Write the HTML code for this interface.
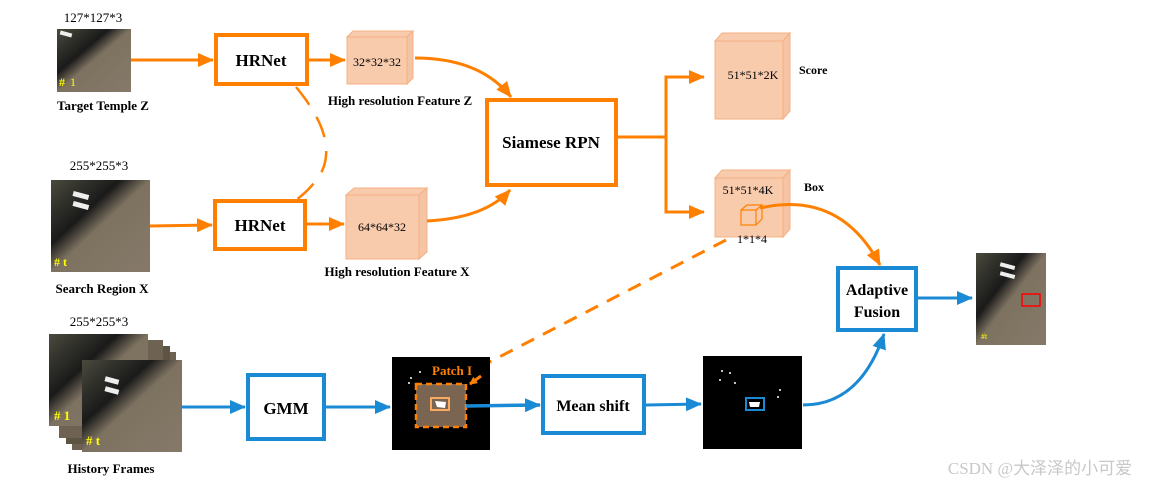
<!DOCTYPE html>
<html><head><meta charset="utf-8"><style>
html,body{margin:0;padding:0;background:#fff}
svg{display:block}
text{font-family:"Liberation Serif",serif}
.b{font-weight:bold}
</style></head><body>
<svg width="1166" height="487" viewBox="0 0 1166 487" xmlns="http://www.w3.org/2000/svg">
<defs>
<marker id="ao" markerWidth="8" markerHeight="8" refX="7" refY="4" orient="auto" markerUnits="userSpaceOnUse"><path d="M0,0 L8,4 L0,8 z" fill="#ff8000"/></marker>
<marker id="aO" markerWidth="16" markerHeight="14" refX="15" refY="7" orient="auto" markerUnits="userSpaceOnUse"><path d="M0,0 L16,7 L0,14 z" fill="#ff8000"/></marker>
<marker id="aB" markerWidth="16" markerHeight="14" refX="15" refY="7" orient="auto" markerUnits="userSpaceOnUse"><path d="M0,0 L16,7 L0,14 z" fill="#1a8ad4"/></marker>
<linearGradient id="road" x1="0" y1="0" x2="1" y2="1">
<stop offset="0" stop-color="#4a4a3e"/><stop offset="0.35" stop-color="#1a1a1a"/><stop offset="0.5" stop-color="#7d7260"/><stop offset="1" stop-color="#86796a"/></linearGradient>
</defs>

<!-- Target image -->
<text x="93" y="22" font-size="13" text-anchor="middle">127*127*3</text>
<rect x="57" y="29" width="74" height="63" fill="url(#road)"/>
<rect x="60" y="32" width="12" height="4" fill="#eee" transform="rotate(15 66 34)"/>
<text x="59" y="86" font-size="12" fill="#ffff00" class="b">#</text><text x="70" y="86" font-size="12" fill="#ffff00">1</text>
<text x="103" y="110" font-size="13" class="b" text-anchor="middle">Target Temple Z</text>

<!-- Search image -->
<text x="99" y="170" font-size="13" text-anchor="middle">255*255*3</text>
<rect x="51" y="180" width="99" height="92" fill="url(#road)"/>
<rect x="73" y="193" width="16" height="5" fill="#eee" transform="rotate(15 81 195)"/>
<rect x="73" y="203" width="16" height="5" fill="#eee" transform="rotate(15 81 205)"/>
<text x="54" y="266" font-size="12" fill="#ffff00" class="b"># t</text>
<text x="102" y="293" font-size="13" class="b" text-anchor="middle">Search Region X</text>

<!-- HRNet boxes -->
<rect x="216" y="35" width="91" height="49" fill="#fff" stroke="#ff8000" stroke-width="4"/>
<text x="261" y="66" font-size="17" class="b" text-anchor="middle">HRNet</text>
<rect x="215" y="201" width="90" height="48" fill="#fff" stroke="#ff8000" stroke-width="4"/>
<text x="260" y="231" font-size="17" class="b" text-anchor="middle">HRNet</text>

<line x1="131" y1="60" x2="213" y2="60" stroke="#ff8000" stroke-width="3" marker-end="url(#aO)"/>
<line x1="150" y1="226" x2="212" y2="225" stroke="#ff8000" stroke-width="3" marker-end="url(#aO)"/>
<line x1="308" y1="60" x2="345" y2="60" stroke="#ff8000" stroke-width="3" marker-end="url(#aO)"/>
<line x1="306" y1="224" x2="344" y2="224" stroke="#ff8000" stroke-width="3" marker-end="url(#aO)"/>

<!-- dashed shared -->
<path d="M296,87 Q340,140 320,175 Q310,190 296,200" fill="none" stroke="#ff8000" stroke-width="2.5" stroke-dasharray="22,14"/>

<!-- Cube Z -->
<g fill="#f8cbad" stroke="#f4b183" stroke-width="1">
<path d="M347,37 L353,31 L413,31 L407,37 z"/><path d="M407,37 L413,31 L413,78 L407,84 z" fill="#f4c4a4"/>
<rect x="347" y="37" width="60" height="47"/>
</g>
<text x="377" y="66" font-size="12" text-anchor="middle">32*32*32</text>
<text x="400" y="105" font-size="13" class="b" text-anchor="middle">High resolution Feature Z</text>

<!-- Cube X -->
<g fill="#f8cbad" stroke="#f4b183" stroke-width="1">
<path d="M346,195 L354,188 L427,188 L419,195 z"/><path d="M419,195 L427,188 L427,252 L419,259 z" fill="#f4c4a4"/>
<rect x="346" y="195" width="73" height="64"/>
</g>
<text x="382" y="231" font-size="12" text-anchor="middle">64*64*32</text>
<text x="397" y="276" font-size="13" class="b" text-anchor="middle">High resolution Feature X</text>

<!-- curves to Siamese -->
<path d="M415,58 Q480,58 511,97" fill="none" stroke="#ff8000" stroke-width="3" marker-end="url(#aO)"/>
<path d="M427,221 Q485,218 510,190" fill="none" stroke="#ff8000" stroke-width="3" marker-end="url(#aO)"/>

<!-- Siamese RPN -->
<rect x="487" y="100" width="129" height="85" fill="#fff" stroke="#ff8000" stroke-width="4"/>
<text x="551" y="148" font-size="17" class="b" text-anchor="middle">Siamese RPN</text>

<path d="M618,137 L666,137" stroke="#ff8000" stroke-width="3"/>
<path d="M666,197 L666,77 L704,77" fill="none" stroke="#ff8000" stroke-width="3" marker-end="url(#aO)"/>
<path d="M666,137 L666,212 L704,212" fill="none" stroke="#ff8000" stroke-width="3" marker-end="url(#aO)"/>

<!-- Score cube -->
<g fill="#f8cbad" stroke="#f4b183" stroke-width="1">
<path d="M715,41 L722,33 L790,33 L783,41 z"/><path d="M783,41 L790,33 L790,111 L783,119 z" fill="#f4c4a4"/>
<rect x="715" y="41" width="68" height="78"/>
</g>
<text x="753" y="79" font-size="12" text-anchor="middle">51*51*2K</text>
<text x="799" y="74" font-size="12" class="b">Score</text>

<!-- Box cube -->
<g fill="#f8cbad" stroke="#f4b183" stroke-width="1">
<path d="M715,178 L722,170 L790,170 L783,178 z"/><path d="M783,178 L790,170 L790,229 L783,237 z" fill="#f4c4a4"/>
<rect x="715" y="178" width="68" height="59"/>
</g>
<text x="748" y="194" font-size="12" text-anchor="middle">51*51*4K</text>
<text x="804" y="191" font-size="12" class="b">Box</text>
<g fill="none" stroke="#ff8000" stroke-width="1.2">
<rect x="741" y="210" width="15" height="15"/>
<path d="M741,210 L747,205 L762,205 L756,210 M762,205 L762,219 L756,225"/>
</g>
<text x="752" y="243" font-size="12" text-anchor="middle">1*1*4</text>
<path d="M760,208 Q840,190 880,265" fill="none" stroke="#ff8000" stroke-width="3" marker-end="url(#aO)"/>

<!-- dashed patch line -->
<path d="M726,240 L470,372" stroke="#ff8000" stroke-width="3" stroke-dasharray="14,10"/>

<!-- Adaptive Fusion -->
<rect x="838" y="268" width="78" height="62" fill="#fff" stroke="#1a8ad4" stroke-width="4"/>
<text x="877" y="295" font-size="16" class="b" text-anchor="middle">Adaptive</text>
<text x="877" y="317" font-size="16" class="b" text-anchor="middle">Fusion</text>
<line x1="918" y1="298" x2="972" y2="298" stroke="#1a8ad4" stroke-width="3" marker-end="url(#aB)"/>

<!-- output image -->
<rect x="976" y="253" width="70" height="92" fill="url(#road)"/>
<rect x="1000" y="264" width="15" height="4" fill="#eee" transform="rotate(15 1007 266)"/>
<rect x="1000" y="273" width="15" height="4" fill="#eee" transform="rotate(15 1007 275)"/>
<rect x="1022" y="294" width="18" height="12" fill="none" stroke="#ff0000" stroke-width="1.5"/>
<text x="981" y="339" font-size="8" fill="#ffff00">#t</text>

<!-- History frames -->
<text x="99" y="326" font-size="13" text-anchor="middle">255*255*3</text>
<rect x="72" y="352" width="104" height="98" fill="#6e6252"/>
<rect x="66" y="346" width="104" height="98" fill="#5e5444"/>
<rect x="59" y="340" width="104" height="98" fill="#6e6252"/>
<rect x="49" y="334" width="99" height="92" fill="url(#road)"/>
<rect x="82" y="360" width="100" height="92" fill="url(#road)"/>
<rect x="105" y="378" width="14" height="5" fill="#eee" transform="rotate(15 112 380)"/>
<rect x="105" y="388" width="14" height="5" fill="#eee" transform="rotate(15 112 390)"/>
<text x="54" y="420" font-size="13" fill="#ffff00" class="b"># 1</text>
<text x="86" y="445" font-size="13" fill="#ffff00" class="b"># t</text>
<text x="111" y="473" font-size="13" class="b" text-anchor="middle">History Frames</text>

<line x1="181" y1="407" x2="245" y2="407" stroke="#1a8ad4" stroke-width="3" marker-end="url(#aB)"/>

<!-- GMM -->
<rect x="248" y="375" width="76" height="64" fill="#fff" stroke="#1a8ad4" stroke-width="4"/>
<text x="286" y="414" font-size="17" class="b" text-anchor="middle">GMM</text>
<line x1="326" y1="407" x2="390" y2="407" stroke="#1a8ad4" stroke-width="3" marker-end="url(#aB)"/>

<!-- black img 1 -->
<rect x="392" y="357" width="98" height="93" fill="#000"/>
<rect x="416" y="384" width="50" height="43" fill="#7a6552" stroke="#ff8000" stroke-width="2.5" stroke-dasharray="6,4"/>
<rect x="431" y="398" width="18" height="12" fill="none" stroke="#f8a860" stroke-width="2"/>
<path d="M435,401 L446,402 L445,408 L437,407 z" fill="#fff"/>
<text x="432" y="375" font-size="13" class="b" fill="#ff8000">Patch I</text>
<line x1="481" y1="376" x2="470" y2="384" stroke="#ff8000" stroke-width="3" marker-end="url(#ao)"/>
<circle cx="411" cy="378" r="1" fill="#fff"/><circle cx="420" cy="372" r="1" fill="#fff"/><circle cx="409" cy="383" r="1" fill="#fff"/>
<line x1="466" y1="406" x2="540" y2="405" stroke="#1a8ad4" stroke-width="3.5" marker-end="url(#aB)"/>

<!-- Mean shift -->
<rect x="543" y="376" width="101" height="57" fill="#fff" stroke="#1a8ad4" stroke-width="4"/>
<text x="593" y="411" font-size="16" class="b" text-anchor="middle">Mean shift</text>
<line x1="646" y1="405" x2="701" y2="404" stroke="#1a8ad4" stroke-width="3" marker-end="url(#aB)"/>

<!-- black img 2 -->
<rect x="703" y="356" width="99" height="93" fill="#000"/>
<rect x="746" y="398" width="18" height="12" fill="none" stroke="#1a8ad4" stroke-width="2"/>
<path d="M749,402 L760,402 L759,407 L750,407 z" fill="#fff"/>
<circle cx="722" cy="371" r="1" fill="#fff"/><circle cx="730" cy="373" r="1" fill="#fff"/><circle cx="720" cy="380" r="1" fill="#fff"/><circle cx="735" cy="383" r="1" fill="#fff"/><circle cx="780" cy="390" r="1" fill="#fff"/><circle cx="778" cy="397" r="1" fill="#fff"/>
<path d="M803,405 Q860,405 884,334" fill="none" stroke="#1a8ad4" stroke-width="3" marker-end="url(#aB)"/>

<text x="1040" y="474" font-size="17" fill="#c8c8c8" text-anchor="middle" font-family="Liberation Sans, 'Noto Sans CJK SC', sans-serif">CSDN @大泽泽的小可爱</text>
</svg>
</body></html>
